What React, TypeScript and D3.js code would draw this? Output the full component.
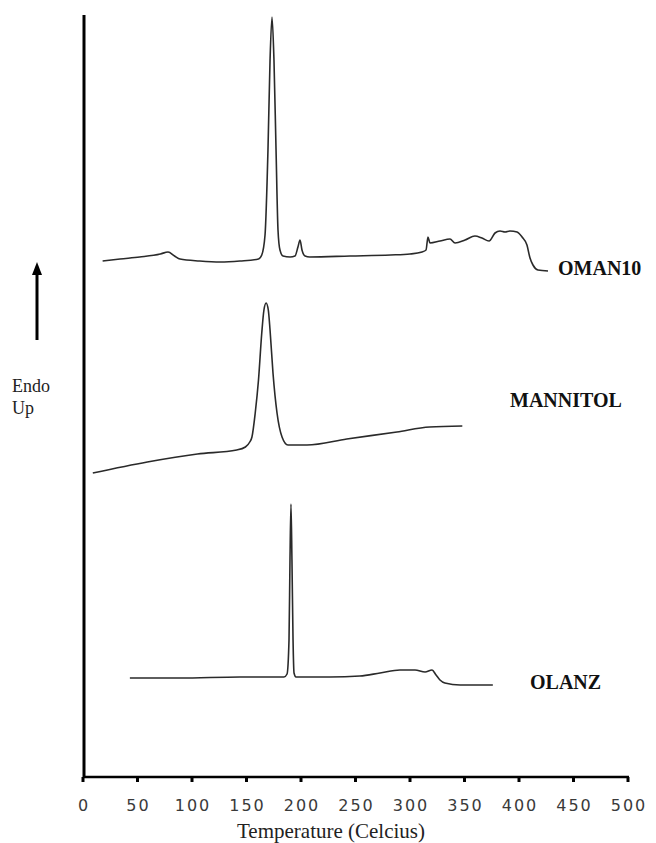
import * as d3 from 'd3';

// Temperature (°C) and heat flow (arbitrary units, stacked offsets).
const omanTemp = [18, 34, 52, 71, 78, 84, 89, 107, 126, 144, 161, 164, 167, 169.7, 171.6, 173.4, 175.2, 177.1, 178.9, 180.7, 183.5, 190, 194.5, 197.2, 199.1, 200.9, 203.7, 208, 245, 282, 300, 311, 314.7, 316.5, 318.3, 327.5, 336.7, 341.3, 350.5, 359.6, 366, 372.5, 378, 382.6, 387.2, 391.7, 398.2, 402.8, 407.3, 410.1, 412.8, 417.4, 426.6];
const omanFlow = [516, 518, 520, 523, 525, 521, 518, 516, 515, 516, 518, 522, 542, 627, 717, 760, 717, 627, 547, 527, 521, 520, 521, 530, 537, 527, 521, 520, 521, 522, 523, 525, 527, 540, 534, 536, 538, 534, 537, 541, 539, 536, 544, 546, 545, 546, 545, 540, 532, 519, 512, 507, 506];

const mannTemp = [9, 59, 105, 141, 149, 153, 155, 158, 161, 164, 166, 168, 170, 171.6, 174.3, 178, 182.6, 188, 205.5, 242, 288, 318, 348];
const mannFlow = [304, 315, 323, 327, 330, 335, 340, 364, 397, 444, 467, 474, 467, 447, 404, 364, 340, 332, 332, 338, 345, 350, 351];

const olanTemp = [43, 89, 144, 184.4, 187.2, 189, 189.9, 190.8, 191.7, 192.7, 193.6, 195.4, 226.6, 254, 272.5, 290.8, 304.6, 313.8, 320.2, 323.9, 327.5, 332, 346, 376];
const olanFlow = [99, 99, 100, 100, 103, 137, 217, 273, 217, 137, 104, 100, 100, 101, 104, 107, 107, 105, 107, 102, 97, 94, 92, 92];

const xTicks = [0, 50, 100, 150, 200, 250, 300, 350, 400, 450, 500];

export default function App() {
  const WIDTH = 656;
  const HEIGHT = 843;
  const X0 = 83;
  const X1 = 628;
  const Y_TOP = 15;
  const Y_BASE = 777;

  const x = d3.scaleLinear().domain([0, 500]).range([X0, X1]);
  const y = d3.scaleLinear().domain([0, Y_BASE - Y_TOP]).range([Y_BASE, Y_TOP]);

  const line = d3
    .line<[number, number]>()
    .x(d => x(d[0]))
    .y(d => y(d[1]))
    .curve(d3.curveMonotoneX);

  const series = [
    { name: 'OMAN10', t: omanTemp, f: omanFlow, lx: 558, ly: 275 },
    { name: 'MANNITOL', t: mannTemp, f: mannFlow, lx: 510, ly: 407 },
    { name: 'OLANZ', t: olanTemp, f: olanFlow, lx: 530, ly: 689 },
  ];

  return (
    <svg
      width={WIDTH}
      height={HEIGHT}
      style={{ position: 'absolute', left: 0, top: 0, background: '#fff' }}
    >
      {/* traces */}
      {series.map(s => (
        <g key={s.name}>
          <path
            d={line(s.t.map((t, i) => [t, s.f[i]] as [number, number])) ?? ''}
            fill="none"
            stroke="#2a2a2a"
            strokeWidth={1.6}
            strokeLinejoin="round"
          />
          <text
            x={s.lx}
            y={s.ly}
            fontFamily="'Liberation Serif', serif"
            fontWeight="bold"
            fontSize={20}
            fill="#111"
          >
            {s.name}
          </text>
        </g>
      ))}

      {/* axes */}
      <line x1={X0 + 1} x2={X0 + 1} y1={Y_TOP} y2={Y_BASE + 1} stroke="#000" strokeWidth={3} />
      <line x1={X0} x2={X1 + 1} y1={Y_BASE} y2={Y_BASE} stroke="#000" strokeWidth={2.5} />
      {xTicks.map(t => (
        <g key={t}>
          <line x1={x(t)} x2={x(t)} y1={Y_BASE} y2={Y_BASE + 5} stroke="#000" strokeWidth={3} />
          <text
            x={x(t) + 1}
            y={811}
            textAnchor="middle"
            fontFamily="'DejaVu Sans', sans-serif"
            fontSize={16}
            letterSpacing={2}
            fill="#3a3a3a"
          >
            {t}
          </text>
        </g>
      ))}
      <text
        x={331}
        y={838}
        textAnchor="middle"
        fontFamily="'Liberation Serif', serif"
        fontSize={21}
        fill="#222"
      >
        Temperature (Celcius)
      </text>

      {/* endo up indicator */}
      <line x1={37} x2={37} y1={340} y2={272} stroke="#000" strokeWidth={3} />
      <path d="M37,262 L32,275 L42,275 Z" fill="#000" />
      <text x={12} y={392} fontFamily="'Liberation Serif', serif" fontSize={18} fill="#222">
        Endo
      </text>
      <text x={12} y={414} fontFamily="'Liberation Serif', serif" fontSize={18} fill="#222">
        Up
      </text>
    </svg>
  );
}
